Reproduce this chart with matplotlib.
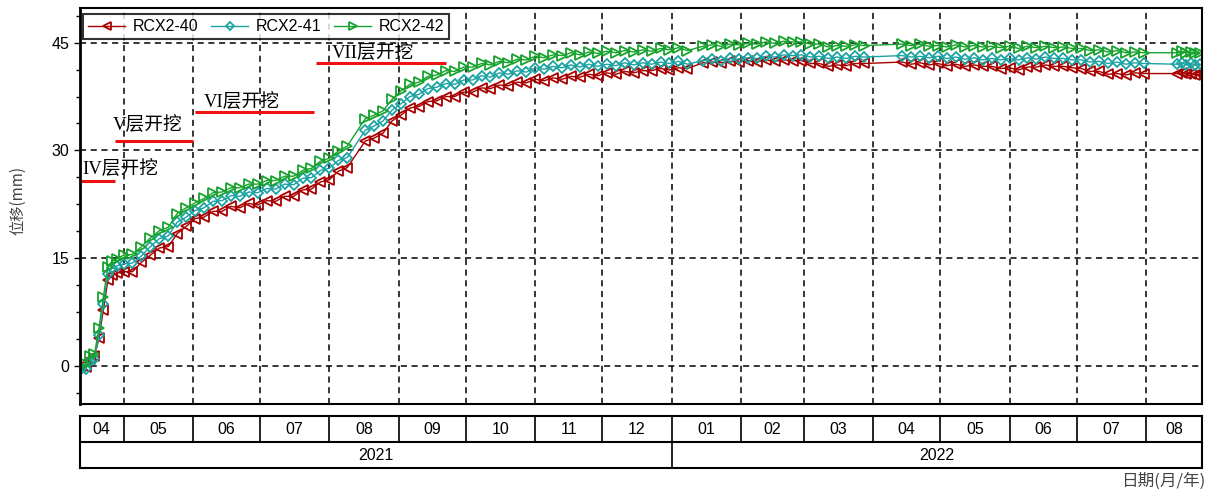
import matplotlib
matplotlib.use('Agg')
import matplotlib.pyplot as plt
import matplotlib.dates as mdates
from matplotlib.ticker import MultipleLocator
import pandas as pd

plt.rcParams['font.family'] = ['Liberation Sans', 'Noto Sans CJK SC']

# measurement dates (gaps in Aug 2021, Jan 2022, Apr 2022, Aug 2022)
DATE_SEGMENTS = [('2021-04-12', '2021-04-28', '2D'),
                 ('2021-05-01', '2021-08-11', '4D'),
                 ('2021-08-17', '2022-01-08', '4D'),
                 ('2022-01-15', '2022-03-31', '4D'),
                 ('2022-04-14', '2022-07-31', '4D'),
                 ('2022-08-15', '2022-08-25', '2D')]

rcx2_42 = [0.0, 0.3, 1.3, 1.6, 5.2, 9.6, 13.8, 14.6, 14.9,
           15.4, 15.5, 16.6, 17.8, 18.8, 19.3, 21.2, 22.0, 22.7, 23.3, 24.1, 24.2, 24.8, 24.8, 25.3, 25.3,
           25.8, 25.8, 26.4, 26.4, 27.2, 27.5, 28.5, 28.9, 29.9, 30.6,
           34.4, 34.9, 35.5, 37.1, 38.3, 39.2, 39.5, 40.3, 40.5, 41.1, 41.0, 41.6, 41.6, 42.1, 41.9, 42.4,
           42.2, 42.7, 42.6, 43.1, 42.9, 43.3, 43.2, 43.6, 43.3, 43.7, 43.5, 43.8, 43.6, 43.9, 43.7, 44.0,
           43.8, 44.2, 44.0, 44.3, 43.9,
           44.5, 44.7, 44.5, 44.8, 44.7, 44.9, 44.8, 45.1, 44.9, 45.2, 45.1, 45.1, 44.8, 44.8, 44.4, 44.6,
           44.5, 44.7, 44.6,
           44.8, 44.6, 44.8, 44.5, 44.6, 44.4, 44.7, 44.4, 44.6, 44.4, 44.5, 44.3, 44.5, 44.2, 44.5, 44.3,
           44.5, 44.3, 44.4, 44.2, 44.2, 43.9, 44.0, 43.7, 43.9, 43.6, 43.7, 43.6,
           43.6, 43.8, 43.6, 43.7, 43.5, 43.6]

rcx2_41 = [-0.4, -0.5, 0.6, 1.0, 4.3, 8.6, 12.8, 13.6, 13.9,
           14.2, 14.3, 15.3, 16.6, 17.7, 18.1, 20.0, 20.7, 21.6, 22.0, 22.9, 23.0, 23.7, 23.6, 24.2, 24.1,
           24.7, 24.6, 25.3, 25.2, 26.1, 26.2, 27.2, 27.5, 28.6, 29.0,
           32.8, 33.4, 34.1, 35.6, 36.5, 37.5, 37.8, 38.6, 38.8, 39.3, 39.2, 39.8, 39.8, 40.4, 40.2, 40.8,
           40.6, 41.1, 40.9, 41.5, 41.3, 41.7, 41.5, 41.9, 41.6, 42.0, 41.7, 42.0, 41.8, 42.2, 41.9, 42.2,
           42.0, 42.3, 42.1, 42.4, 42.0,
           42.5, 42.7, 42.5, 42.8, 42.7, 42.9, 42.8, 43.1, 43.0, 43.3, 43.2, 43.3, 43.0, 43.1, 42.8, 43.0,
           42.8, 43.1, 43.0,
           43.2, 43.0, 43.1, 42.9, 43.1, 42.8, 43.0, 42.7, 42.9, 42.6, 42.8, 42.6, 42.8, 42.6, 42.9, 42.7,
           43.0, 42.8, 42.8, 42.6, 42.6, 42.3, 42.4, 42.1, 42.3, 42.0, 42.2, 42.1,
           42.0, 42.2, 41.9, 42.1, 41.9, 42.0]

rcx2_40 = [-0.1, -0.2, 0.9, 1.3, 3.8, 7.8, 11.9, 12.6, 12.9,
           13.1, 13.1, 14.4, 15.4, 16.4, 16.6, 18.4, 19.4, 20.5, 20.7, 21.5, 21.5, 22.2, 22.0, 22.6, 22.4,
           23.0, 22.9, 23.6, 23.6, 24.5, 24.6, 25.6, 25.9, 27.1, 27.6,
           31.3, 31.7, 32.4, 34.1, 34.9, 35.9, 36.1, 36.8, 36.9, 37.5, 37.5, 38.1, 38.1, 38.7, 38.6, 39.1,
           39.0, 39.5, 39.4, 39.9, 39.7, 40.1, 39.9, 40.3, 40.2, 40.6, 40.4, 40.8, 40.6, 41.0, 40.8, 41.1,
           41.1, 41.4, 41.2, 41.5, 41.4,
           42.2, 42.3, 42.2, 42.4, 42.3, 42.5, 42.3, 42.6, 42.4, 42.6, 42.5, 42.5, 42.1, 42.1, 41.7, 41.9,
           41.8, 42.1, 42.1,
           42.3, 42.0, 42.2, 41.9, 42.1, 41.8, 42.0, 41.7, 41.9, 41.7, 41.7, 41.4, 41.5, 41.2, 41.6, 41.6,
           41.9, 41.7, 41.7, 41.5, 41.4, 41.0, 41.0, 40.6, 40.7, 40.5, 40.8, 40.7,
           40.7, 40.8, 40.6, 40.7, 40.5, 40.6]

SERIES_NAMES = ['RCX2-40', 'RCX2-41', 'RCX2-42']

# excavation stages: label, start, end, level (mm) of the red marker line
STAGE_LABELS = ['IV层开挖', 'V层开挖', 'VI层开挖', 'VII层开挖']
STAGE_START = ['2021-04-12', '2021-04-27', '2021-06-02', '2021-07-26']
STAGE_END = ['2021-04-27', '2021-06-01', '2021-07-25', '2021-09-22']
STAGE_LEVEL = [25.7, 31.25, 35.3, 42.1]
STAGE_TEXT_X = ['2021-04-12 12:00', '2021-04-26', '2021-06-06', '2021-08-02']
STAGE_TEXT_Y = [27.4, 33.6, 36.8, 43.5]

MONTH_LABELS = ['04', '05', '06', '07', '08', '09', '10', '11', '12',
                '01', '02', '03', '04', '05', '06', '07', '08']
YEAR_LABELS = ['2021', '2022']

dates = pd.DatetimeIndex([])
for s, e, f in DATE_SEGMENTS:
    dates = dates.append(pd.date_range(s, e, freq=f))
assert len(dates) == len(rcx2_40) == len(rcx2_41) == len(rcx2_42)

x0 = pd.Timestamp('2021-04-11 13:00')
x1 = pd.Timestamp('2022-08-26')
month_edges = pd.date_range('2021-05-01', '2022-08-01', freq='MS')

fig = plt.figure(figsize=(12.17, 4.92), dpi=100)
ax = fig.add_axes([80 / 1217, 1 - 404 / 492, 1122 / 1217, 396 / 492])

styles = [('#A80000', '<'), ('#1BA3A3', 'D'), ('#17A22E', '>')]
for name, vals, (c, m) in zip(SERIES_NAMES, [rcx2_40, rcx2_41, rcx2_42], styles):
    ms = 5 if m == 'D' else 7.5
    ax.plot(dates, vals, color=c, marker=m, markersize=ms, mfc='none', mew=1.3,
            lw=1.0, label=name)

for lab, s, e, lv, tx, ty in zip(STAGE_LABELS, STAGE_START, STAGE_END, STAGE_LEVEL,
                                 STAGE_TEXT_X, STAGE_TEXT_Y):
    ax.plot([pd.Timestamp(s), pd.Timestamp(e)], [lv, lv], color='#EE1111', lw=2.2,
            solid_capstyle='butt')
    ax.text(pd.Timestamp(tx), ty, lab, fontsize=13.5, va='center', ha='left',
            family=['Liberation Serif', 'Noto Sans CJK SC'], color='black')

ax.set_xlim(x0, x1)
ax.set_ylim(-5.33, 49.83)
ax.set_xticks(month_edges)
ax.set_yticks([0, 15, 30, 45])
ax.yaxis.set_minor_locator(MultipleLocator(3.75))
ax.tick_params(axis='x', length=0, labelbottom=False)
ax.tick_params(axis='y', which='major', direction='out', length=4, width=1, labelsize=11.5)
ax.tick_params(axis='y', which='minor', direction='out', length=3, width=1)
ax.grid(True, which='major', color='black', linestyle=(0, (4, 3)), lw=1.1)
for sp in ax.spines.values():
    sp.set_linewidth(1.5)
ax.spines['left'].set_linewidth(2)

ax.set_ylabel('位移(mm)', fontsize=11, color='#444444', family=['Noto Sans CJK SC'])
ax.yaxis.set_label_coords(-0.048, 0.515)

leg = ax.legend(loc='upper left', bbox_to_anchor=(0.003, 0.984), ncol=3, fontsize=11.5,
                frameon=True, fancybox=False, edgecolor='black', borderaxespad=0,
                handlelength=2.3, handletextpad=0.5, columnspacing=0.8, borderpad=0.3,
                markerscale=0.8)
leg.get_frame().set_linewidth(1.5)

# date table below the plot
tax = fig.add_axes([80 / 1217, 1 - 468 / 492, 1122 / 1217, 52 / 492])
tax.set_xlim(x0, x1)
tax.set_ylim(0, 2)
tax.set_xticks([])
tax.set_yticks([])
for sp in tax.spines.values():
    sp.set_linewidth(1.5)
tax.axhline(1, color='black', lw=1.5)
tax.vlines(month_edges, 1, 2, color='black', lw=1.2)
year_edge = pd.Timestamp('2022-01-01')
tax.vlines([year_edge], 0, 1, color='black', lw=1.2)
edges = [x0] + list(month_edges) + [x1]
for lab, a, b in zip(MONTH_LABELS, edges[:-1], edges[1:]):
    tax.text(a + (b - a) / 2, 1.5, lab, ha='center', va='center', fontsize=11.5)
for lab, a, b in zip(YEAR_LABELS, [x0, year_edge], [year_edge, x1]):
    tax.text(a + (b - a) / 2, 0.5, lab, ha='center', va='center', fontsize=11.5)

fig.text(1205 / 1217, 1 - 481 / 492, '日期(月/年)', ha='right', va='center', fontsize=12,
         color='#444444', family=['Noto Sans CJK SC'])

fig.savefig('out.png', dpi=100)
